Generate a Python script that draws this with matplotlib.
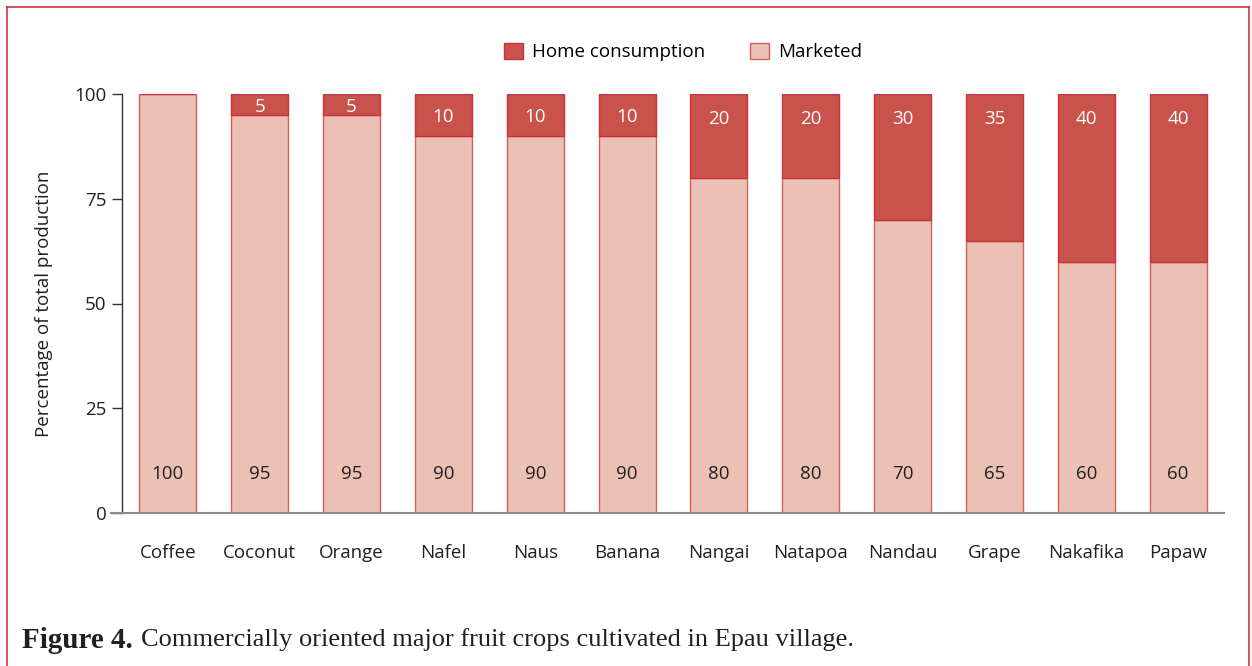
import matplotlib
matplotlib.use("Agg")
import matplotlib.pyplot as plt
from matplotlib.patches import Patch
from matplotlib.lines import Line2D
import numpy as np

plt.rcParams["font.family"] = ["Open Sans", "DejaVu Sans"]

crops = ["Coffee", "Coconut", "Orange", "Nafel", "Naus", "Banana",
         "Nangai", "Natapoa", "Nandau", "Grape", "Nakafika", "Papaw"]
marketed = [100, 95, 95, 90, 90, 90, 80, 80, 70, 65, 60, 60]
home = [0, 5, 5, 10, 10, 10, 20, 20, 30, 35, 40, 40]
yticks = [0, 25, 50, 75, 100]

c_home = "#C9524B"
e_home = "#C4343A"
c_mark = "#EBC1B6"
e_mark = "#D9605A"
txt = "#231F20"
frame_c = "#D3303A"
fs = 13.5

W, H = 1252, 666
fig = plt.figure(figsize=(W / 100, H / 100), dpi=100)
ax = fig.add_axes([122 / W, 153 / H, (1224 - 122) / W, (513 - 94) / H])

x = np.arange(len(crops))
bw = 0.62
ax.bar(x, marketed, width=bw, color=c_mark, edgecolor=e_mark, linewidth=1.0, zorder=2)
ax.bar(x, home, width=bw, bottom=marketed, color=c_home, edgecolor=e_home, linewidth=1.0, zorder=2)

for i in range(len(crops)):
    ax.text(x[i], 9.3, str(marketed[i]), ha="center", va="center", fontsize=fs, color=txt, zorder=3)
    if home[i] > 0:
        ypos = 100 - min(home[i] / 2, 5.4) - 0.5
        ax.text(x[i], ypos, str(home[i]), ha="center", va="center", fontsize=fs, color="white", zorder=3)

ax.set_xlim(-0.5, len(crops) - 0.5)
ax.set_ylim(0, 100)
ax.set_yticks(yticks)
ax.set_yticklabels([str(v) for v in yticks], fontsize=fs, color=txt)
ax.set_xticks(x)
ax.set_xticklabels(crops, fontsize=fs, color=txt)
ax.tick_params(axis="x", length=0, pad=22)
ax.tick_params(axis="y", length=7, width=1.0, color="#333333", pad=4)
for s in ["top", "right", "bottom"]:
    ax.spines[s].set_visible(False)
ax.spines["left"].set_color("#333333")
ax.spines["left"].set_linewidth(1.0)
ax.add_line(Line2D([-0.01, 1.0], [0, 0], transform=ax.transAxes, color="#8a8a8a",
                   linewidth=1.5, clip_on=False, zorder=4))
ax.set_ylabel("Percentage of total production", fontsize=fs, color=txt)
ax.yaxis.set_label_coords(-0.063, 0.5)

handles = [Patch(facecolor=c_home, edgecolor=e_home, label="Home consumption"),
           Patch(facecolor=c_mark, edgecolor=e_mark, label="Marketed")]
fig.legend(handles=handles, loc="center", bbox_to_anchor=(683 / W, 1 - 52 / H), ncol=2,
           frameon=False, fontsize=fs, handlelength=1.0, handleheight=1.0,
           handletextpad=0.5, columnspacing=2.4)

# red frame around figure
fig.add_artist(Line2D([7 / W, 7 / W], [0, 1 - 7 / H], transform=fig.transFigure, color=frame_c, linewidth=1.2))
fig.add_artist(Line2D([7 / W, 1249 / W], [1 - 7 / H, 1 - 7 / H], transform=fig.transFigure, color=frame_c, linewidth=1.2))
fig.add_artist(Line2D([1249 / W, 1249 / W], [0, 1 - 7 / H], transform=fig.transFigure, color=frame_c, linewidth=1.2))

# caption
serif = ["Liberation Serif", "DejaVu Serif"]
t1 = fig.text(22 / W, 1 - 640 / H, "Figure 4.", fontsize=21, fontweight="bold",
              family=serif, color=txt, va="center", ha="left")
fig.canvas.draw()
bb = t1.get_window_extent()
fig.text((bb.x1 + 8) / W, 1 - 640 / H, "Commercially oriented major fruit crops cultivated in Epau village.",
         fontsize=19, family=serif, color=txt, va="center", ha="left")

fig.savefig("out.png", dpi=100)
